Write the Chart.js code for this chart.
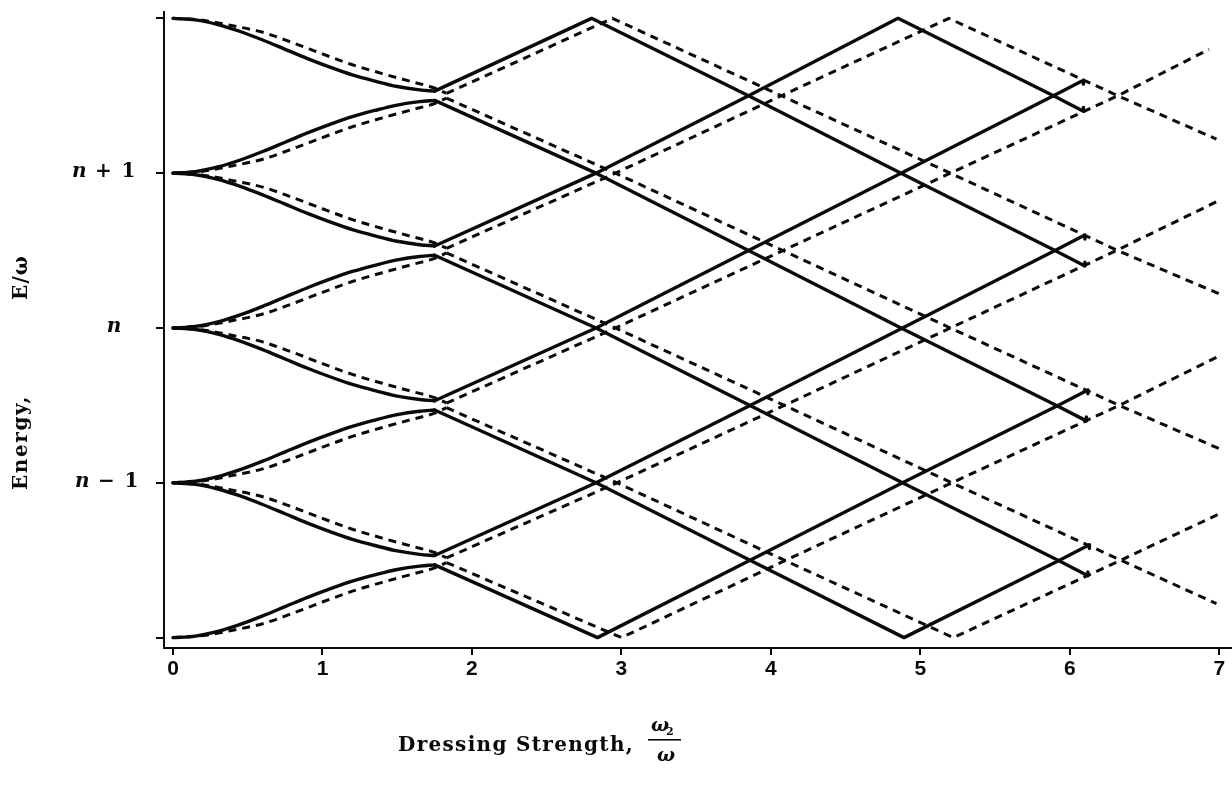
<!DOCTYPE html>
<html>
<head>
<meta charset="utf-8">
<script src="https://cdn.jsdelivr.net/npm/chart.js@4.4.0/dist/chart.umd.min.js"></script>
<style>
  html, body { margin: 0; padding: 0; background: #fff; }
  #wrap { width: 1232px; height: 785px; position: relative; }
</style>
</head>
<body>
<div id="wrap"><canvas id="c"></canvas></div>
<script>
// Axis ticks
const xTickValues = [0, 1, 2, 3, 4, 5, 6, 7];
const yTickValues = [-2, -1, 0, 1, 2];
const yTickLabels = ['', 'n − 1', 'n', 'n + 1', ''];

// Solid curves: smooth branches leaving each level (x = dressing strength)
const solidBranchX = [0, 0.15, 0.3, 0.45, 0.6, 0.75, 0.9, 1.05, 1.2, 1.35, 1.5, 1.65, 1.75];
const solidDownFrom2 = [2, 1.99, 1.96, 1.915, 1.86, 1.80, 1.74, 1.685, 1.635, 1.595, 1.56, 1.538, 1.53];
const solidUpFrom1   = [1, 1.01, 1.04, 1.085, 1.14, 1.20, 1.26, 1.315, 1.365, 1.405, 1.44, 1.462, 1.47];
const solidDownFrom1 = [1, 0.99, 0.96, 0.915, 0.86, 0.80, 0.74, 0.685, 0.635, 0.595, 0.56, 0.538, 0.53];
const solidUpFrom0   = [0, 0.01, 0.04, 0.085, 0.14, 0.20, 0.26, 0.315, 0.365, 0.405, 0.44, 0.462, 0.47];
const solidDownFrom0 = [0, -0.01, -0.04, -0.085, -0.14, -0.20, -0.26, -0.315, -0.365, -0.405, -0.44, -0.462, -0.47];
const solidUpFromM1  = [-1, -0.99, -0.96, -0.915, -0.86, -0.80, -0.74, -0.685, -0.635, -0.595, -0.56, -0.538, -0.53];
const solidDownFromM1= [-1, -1.01, -1.04, -1.085, -1.14, -1.20, -1.26, -1.315, -1.365, -1.405, -1.44, -1.462, -1.47];
const solidUpFromM2  = [-2, -1.99, -1.96, -1.915, -1.86, -1.80, -1.74, -1.685, -1.635, -1.595, -1.56, -1.538, -1.53];

// Solid curves: straight zig-zags beyond the first gap, [x, E/ω]; each ends in a short hook
const solidZig1 = [[1.75, 1.53], [2.8, 2], [3.85, 1.5], [4.87, 1], [5.9, 0.5], [6.1, 0.4], [6.1, 0.425]];
const solidZig2 = [[1.75, 1.47], [2.83, 1], [3.85, 0.5], [4.87, 0], [5.91, -0.5], [6.11, -0.6], [6.11, -0.575]];
const solidZig3 = [[1.75, 0.53], [2.83, 1], [3.85, 1.5], [4.85, 2], [5.89, 1.5], [6.09, 1.4], [6.09, 1.425]];
const solidZig4 = [[1.75, 0.47], [2.83, 0], [3.86, -0.5], [4.88, -1], [5.92, -1.5], [6.12, -1.6], [6.12, -1.575]];
const solidZig5 = [[1.75, -0.47], [2.83, 0], [3.85, 0.5], [4.87, 1], [5.89, 1.5], [6.09, 1.6], [6.09, 1.575]];
const solidZig6 = [[1.75, -0.53], [2.83, -1], [3.86, -1.5], [4.89, -2], [5.93, -1.5], [6.13, -1.4], [6.13, -1.425]];
const solidZig7 = [[1.75, -1.47], [2.83, -1], [3.86, -0.5], [4.88, 0], [5.9, 0.5], [6.1, 0.6], [6.1, 0.575]];
const solidZig8 = [[1.75, -1.53], [2.84, -2], [3.86, -1.5], [4.88, -1], [5.92, -0.5], [6.12, -0.4], [6.12, -0.425]];

// Dashed curves: smooth branches
const dashedBranchX = [0, 0.2, 0.4, 0.6, 0.8, 1.0, 1.2, 1.4, 1.6, 1.75, 1.83];
const dashedDownFrom2 = [2, 1.987, 1.952, 1.91, 1.843, 1.77, 1.70, 1.643, 1.59, 1.55, 1.515];
const dashedUpFrom1   = [1, 1.013, 1.048, 1.09, 1.157, 1.23, 1.30, 1.357, 1.41, 1.45, 1.485];
const dashedDownFrom1 = [1, 0.987, 0.952, 0.91, 0.843, 0.77, 0.70, 0.643, 0.59, 0.55, 0.515];
const dashedUpFrom0   = [0, 0.013, 0.048, 0.09, 0.157, 0.23, 0.30, 0.357, 0.41, 0.45, 0.485];
const dashedDownFrom0 = [0, -0.013, -0.048, -0.09, -0.157, -0.23, -0.30, -0.357, -0.41, -0.45, -0.485];
const dashedUpFromM1  = [-1, -0.987, -0.952, -0.91, -0.843, -0.77, -0.70, -0.643, -0.59, -0.55, -0.515];
const dashedDownFromM1= [-1, -1.013, -1.048, -1.09, -1.157, -1.23, -1.30, -1.357, -1.41, -1.45, -1.485];
const dashedUpFromM2  = [-2, -1.987, -1.952, -1.91, -1.843, -1.77, -1.70, -1.643, -1.59, -1.55, -1.515];

// Dashed curves: straight zig-zags
const dashedZig1 = [[1.83, 1.515], [2.94, 2], [4.07, 1.5], [5.2, 1], [6.32, 0.5], [7.0, 0.22]];
const dashedZig2 = [[1.83, 1.485], [2.96, 1], [4.08, 0.5], [5.2, 0], [6.33, -0.5], [7.0, -0.78]];
const dashedZig3 = [[1.83, 0.515], [2.96, 1], [4.07, 1.5], [5.19, 2], [6.32, 1.5], [6.98, 1.22]];
const dashedZig4 = [[1.83, 0.485], [2.96, 0], [4.09, -0.5], [5.21, -1], [6.34, -1.5], [6.98, -1.78]];
const dashedZig5 = [[1.83, -0.485], [2.96, 0], [4.08, 0.5], [5.2, 1], [6.32, 1.5], [6.93, 1.8]];
const dashedZig6 = [[1.83, -0.515], [2.97, -1], [4.09, -1.5], [5.22, -2], [6.34, -1.5], [7.0, -1.2]];
const dashedZig7 = [[1.83, -1.485], [2.97, -1], [4.09, -0.5], [5.2, 0], [6.31, 0.5], [6.99, 0.82]];
const dashedZig8 = [[1.83, -1.515], [3.0, -2], [4.1, -1.5], [5.21, -1], [6.33, -0.5], [7.0, -0.18]];

const INK = '#0a0a0a';

function branch(xs, ys) { return xs.map((x, i) => ({ x: x, y: ys[i] })); }
function zig(pairs) { return pairs.map(p => ({ x: p[0], y: p[1] })); }

function solidSet(data, smooth) {
  return {
    data: data, borderColor: INK, borderWidth: 3.4, pointRadius: 0, fill: false,
    tension: 0, cubicInterpolationMode: smooth ? 'monotone' : 'default',
    borderCapStyle: 'round', borderJoinStyle: 'round', order: 0
  };
}
function dashedSet(data, smooth) {
  return {
    data: data, borderColor: INK, borderWidth: 3, pointRadius: 0, fill: false,
    tension: 0, cubicInterpolationMode: smooth ? 'monotone' : 'default',
    borderDash: [8, 6], borderCapStyle: 'butt', borderJoinStyle: 'miter', order: 1
  };
}

const solidBranches = [solidDownFrom2, solidUpFrom1, solidDownFrom1, solidUpFrom0,
  solidDownFrom0, solidUpFromM1, solidDownFromM1, solidUpFromM2];
const solidZigs = [solidZig1, solidZig2, solidZig3, solidZig4, solidZig5, solidZig6, solidZig7, solidZig8];
const dashedBranches = [dashedDownFrom2, dashedUpFrom1, dashedDownFrom1, dashedUpFrom0,
  dashedDownFrom0, dashedUpFromM1, dashedDownFromM1, dashedUpFromM2];
const dashedZigs = [dashedZig1, dashedZig2, dashedZig3, dashedZig4, dashedZig5, dashedZig6, dashedZig7, dashedZig8];

const datasets = [];
dashedBranches.forEach(ys => datasets.push(dashedSet(branch(dashedBranchX, ys), true)));
dashedZigs.forEach(p => datasets.push(dashedSet(zig(p), false)));
solidBranches.forEach(ys => datasets.push(solidSet(branch(solidBranchX, ys), true)));
solidZigs.forEach(p => datasets.push(solidSet(zig(p), false)));

const SERIF = '"DejaVu Serif", "Liberation Serif", serif';

// Writes text from x so that it spans the given width, spreading the letters
function spreadText(ctx, text, x, y, width) {
  ctx.letterSpacing = '0px';
  const w0 = ctx.measureText(text).width;
  const gap = text.length > 1 ? (width - w0) / text.length : 0;
  ctx.letterSpacing = gap.toFixed(2) + 'px';
  ctx.fillText(text, x, y);
  ctx.letterSpacing = '0px';
}

// Draws the level labels and both axis titles
const figureText = {
  id: 'figureText',
  afterDraw(chart) {
    const ctx = chart.ctx;
    const ys = chart.scales.y;
    ctx.save();
    ctx.fillStyle = INK;
    ctx.textBaseline = 'middle';
    ctx.textAlign = 'left';

    // level labels on the energy axis: italic n, upright offset
    yTickValues.forEach((v, i) => {
      const lab = yTickLabels[i];
      if (!lab) return;
      const py = ys.getPixelForValue(v) - 1;
      const head = lab.charAt(0);
      const tail = lab.slice(1);
      ctx.font = 'italic bold 20px ' + SERIF;
      const wh = ctx.measureText(head).width;
      if (!tail) {
        ctx.fillText(head, 114 - wh / 2, py);
        return;
      }
      const left = v > 0 ? 72 : 75;
      ctx.fillText(head, left, py);
      ctx.font = 'bold 20px ' + SERIF;
      spreadText(ctx, tail, left + wh, py, 65 - wh);
    });

    // vertical title
    ctx.save();
    ctx.translate(22, 0);
    ctx.rotate(-Math.PI / 2);
    ctx.font = 'bold 20px ' + SERIF;
    spreadText(ctx, 'Energy,', -490, 0, 95);
    spreadText(ctx, 'E/ω', -300, 0, 45);
    ctx.restore();

    // horizontal title with the ω₂/ω fraction
    ctx.textBaseline = 'alphabetic';
    ctx.font = 'bold 20px ' + SERIF;
    spreadText(ctx, 'Dressing Strength,', 398, 751, 236);
    ctx.font = 'italic bold 19px ' + SERIF;
    ctx.fillText('ω', 651, 731);
    ctx.font = 'bold 11px ' + SERIF;
    ctx.fillText('2', 666, 735);
    ctx.fillRect(648, 739, 33, 1.6);
    ctx.font = 'italic bold 19px ' + SERIF;
    ctx.fillText('ω', 657, 761);
    ctx.restore();
  }
};

new Chart(document.getElementById('c'), {
  type: 'line',
  data: { datasets: datasets },
  options: {
    responsive: true,
    maintainAspectRatio: false,
    animation: false,
    devicePixelRatio: 1,
    layout: { padding: { top: 12, right: 0, left: 0, bottom: 0 } },
    plugins: { legend: { display: false }, tooltip: { enabled: false } },
    scales: {
      x: {
        type: 'linear',
        min: -0.06,
        max: 7.084,
        afterBuildTicks: s => { s.ticks = xTickValues.map(v => ({ value: v })); },
        afterFit: s => { s.height = 137; },
        ticks: {
          color: INK,
          font: { family: '"Liberation Sans", Arial, sans-serif', size: 21, weight: 'bold' },
          padding: 2,
          maxRotation: 0,
          callback: v => String(v)
        },
        grid: { display: true, drawOnChartArea: false, drawTicks: true, tickLength: 7, color: INK, lineWidth: 2 },
        border: { display: true, color: INK, width: 2 }
      },
      y: {
        type: 'linear',
        min: -2.067,
        max: 2.041,
        afterBuildTicks: s => { s.ticks = yTickValues.map(v => ({ value: v })); },
        afterFit: s => { s.width = 164; },
        ticks: { display: false },
        grid: { display: true, drawOnChartArea: false, drawTicks: true, tickLength: 8, color: INK, lineWidth: 2 },
        border: { display: true, color: INK, width: 2 }
      }
    }
  },
  plugins: [figureText]
});
</script>
</body>
</html>
